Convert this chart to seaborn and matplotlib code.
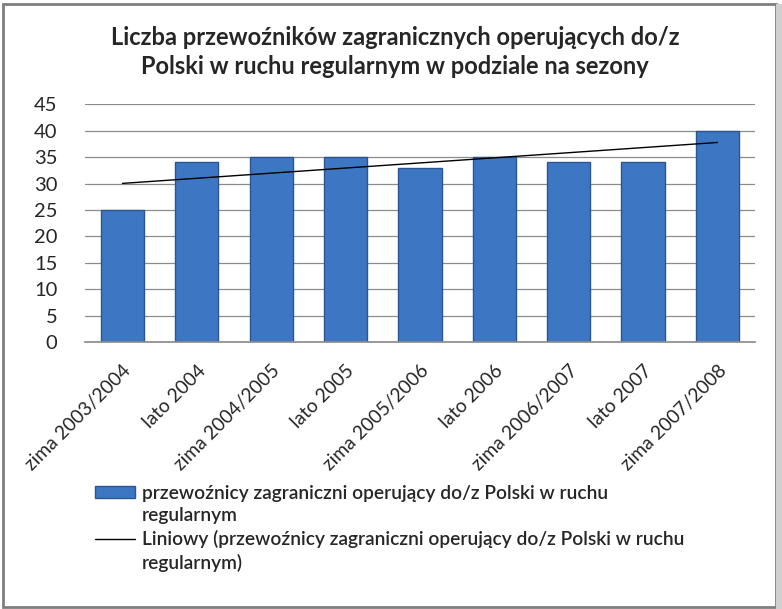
import matplotlib
matplotlib.use("Agg")
import matplotlib.pyplot as plt
import seaborn as sns
import numpy as np
import pandas as pd
from matplotlib.patches import Rectangle
from matplotlib.lines import Line2D

sns.set_theme(style="white")
plt.rcParams['font.family'] = ['Lato', 'DejaVu Sans']

seasons = ["zima 2003/2004", "lato 2004", "zima 2004/2005", "lato 2005",
           "zima 2005/2006", "lato 2006", "zima 2006/2007", "lato 2007",
           "zima 2007/2008"]
carriers = [25, 34, 35, 35, 33, 35, 34, 34, 40]
yticks = [0, 5, 10, 15, 20, 25, 30, 35, 40, 45]

# etykiety legendy, po jednej linii na wpis (uchwyt przy pierwszej linii)
bar_label = ["przewoźnicy zagraniczni operujący do/z Polski w ruchu", "regularnym"]
trend_label = ["Liniowy (przewoźnicy zagraniczni operujący do/z Polski w ruchu", "regularnym)"]

df = pd.DataFrame({"sezon": seasons, "liczba": carriers, "pos": range(len(seasons))})

fig = plt.figure(figsize=(7.82, 6.09), dpi=100)
ax = fig.add_axes([0.109, 0.438, 0.856, 0.391])

ax.yaxis.grid(True, color="#8c8c8c", linewidth=0.9)
ax.set_axisbelow(True)
sns.barplot(data=df, x="sezon", y="liczba", color="#3d77c4", width=0.58,
            edgecolor="#2b5590", linewidth=1.0, saturation=1, ax=ax)
sns.regplot(data=df, x="pos", y="liczba", scatter=False, ci=None, truncate=True,
            line_kws=dict(color="black", linewidth=1.0), ax=ax)

ax.set_ylim(0, 45)
ax.set_yticks(yticks)
ax.set_xlim(-0.5, len(seasons) - 0.5)
ax.set_xlabel("")
ax.set_ylabel("")
ax.set_xticks(range(len(seasons)))
ax.set_xticklabels(seasons, rotation=45, ha="right", rotation_mode="anchor", fontsize=13.8)
ax.tick_params(axis="y", labelsize=14.5, pad=14)
ax.tick_params(axis="x", pad=8)
for s in ["top", "right", "left"]:
    ax.spines[s].set_visible(False)
ax.spines["bottom"].set_color("#8c8c8c")

fig.text(0.505, 0.915, "Liczba przewoźników zagranicznych operujących do/z\nPolski w ruchu regularnym w podziale na sezony",
         ha="center", va="center", fontsize=17, fontweight="bold", linespacing=1.3)

blank = Rectangle((0, 0), 1, 1, visible=False)
handles = [Rectangle((0, 0), 1, 1, facecolor="#3d77c4", edgecolor="#2b5590"), blank,
           Line2D([0], [0], color="black", linewidth=1.0), blank]
labels = bar_label + trend_label
leg = fig.legend(handles, labels, loc="upper left",
                 bbox_to_anchor=(0.109, 1 - 475 / 609), frameon=False,
                 prop=dict(size=13.8, weight="semibold"), handlelength=2.1,
                 handleheight=0.55, handletextpad=0.35, labelspacing=0.3, borderpad=0)

# ramka wykresu z cieniem
fig.patches.append(Rectangle((0.004, 0.004), 0.988, 0.99, transform=fig.transFigure,
                             fill=False, edgecolor="#7f7f7f", linewidth=2.0))
fig.patches.append(Rectangle((0.992, 0.0), 0.008, 0.994, transform=fig.transFigure,
                             facecolor="#d0d0d0", edgecolor="none"))

fig.savefig("out.png", dpi=100)
